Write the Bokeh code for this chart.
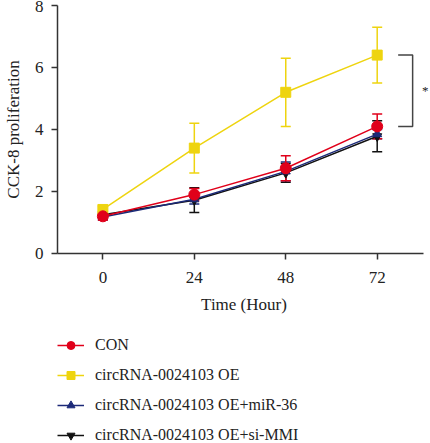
from bokeh.plotting import figure
from bokeh.layouts import column
from bokeh.models import (ColumnDataSource, Whisker, TeeHead, Legend, LegendItem,
                          Range1d, FixedTicker, Label)
from bokeh.embed import file_html
from bokeh.resources import INLINE

hours = [0, 24, 48, 72]
x_ticks = [0, 24, 48, 72]
y_ticks = [0, 2, 4, 6, 8]

series_names = ["CON", "circRNA-0024103 OE", "circRNA-0024103 OE+miR-36",
                "circRNA-0024103 OE+si-MMI"]
con = [1.2, 1.9, 2.75, 4.1]
con_err = [0.12, 0.2, 0.4, 0.4]
oe = [1.42, 3.4, 5.2, 6.4]
oe_err = [0.1, 0.8, 1.1, 0.9]
mir = [1.18, 1.75, 2.65, 3.85]
mir_err = [0.1, 0.15, 0.3, 0.15]
si = [1.25, 1.72, 2.6, 3.78]
si_err = [0.1, 0.4, 0.3, 0.5]

FONT = "Liberation Serif"
FS = "17px"
AX = "#333333"
TXT = "#222222"

X0, X1 = -11.91, 85.99

p = figure(width=430, height=323, output_backend="svg", toolbar_location=None,
           x_range=Range1d(X0, X1), y_range=Range1d(0, 8),
           min_border_left=52, min_border_right=0, min_border_top=5,
           min_border_bottom=70)
p.grid.visible = False
p.outline_line_color = None

for ax in (p.xaxis[0], p.yaxis[0]):
    ax.axis_line_color = AX
    ax.axis_line_width = 1.5
    ax.major_tick_line_color = AX
    ax.major_tick_line_width = 1.5
    ax.major_tick_out = 6
    ax.major_tick_in = 0
    ax.minor_tick_line_color = None
    ax.major_label_text_font = FONT
    ax.major_label_text_font_size = FS
    ax.major_label_text_color = TXT
    ax.axis_label_text_font = FONT
    ax.axis_label_text_font_size = FS
    ax.axis_label_text_font_style = "normal"
    ax.axis_label_text_color = TXT

p.xaxis.ticker = FixedTicker(ticks=x_ticks)
p.yaxis.ticker = FixedTicker(ticks=y_ticks)
p.xaxis.bounds = (X0, 84.1)
p.xaxis.axis_label = "Time (Hour)"
p.yaxis.axis_label = "CCK-8 proliferation"
p.xaxis.major_label_standoff = 12
p.xaxis.axis_label_standoff = 9
p.yaxis.major_label_standoff = 8
p.yaxis.axis_label_standoff = 9

specs = [
    (si, si_err, "#111111", "inverted_triangle", 9, series_names[3]),
    (mir, mir_err, "#1c2a78", "triangle", 9, series_names[2]),
    (oe, oe_err, "#eed40f", "square", 10, series_names[1]),
    (con, con_err, "#e0001a", "circle", 11, series_names[0]),
]

# legend panel below the chart
p2 = figure(width=430, height=120, output_backend="svg", toolbar_location=None,
            x_range=Range1d(-1000, -999), y_range=Range1d(-1000, -999),
            x_axis_type=None, y_axis_type=None,
            min_border_left=52, min_border_right=0, min_border_top=0,
            min_border_bottom=0)
p2.grid.visible = False
p2.outline_line_color = None

items = {}
for vals, errs, col, mk, sz, name in specs:
    src = ColumnDataSource(dict(x=hours, y=vals,
                                upper=[v + e for v, e in zip(vals, errs)],
                                lower=[v - e for v, e in zip(vals, errs)]))
    w = Whisker(base="x", upper="upper", lower="lower", source=src,
                line_color=col, line_width=1.5,
                upper_head=TeeHead(size=10, line_color=col, line_width=1.5),
                lower_head=TeeHead(size=10, line_color=col, line_width=1.5))
    p.add_layout(w)
    p.line("x", "y", source=src, line_color=col, line_width=1.5)
    p.scatter("x", "y", source=src, marker=mk, size=sz,
              fill_color=col, line_color=col)
    # same series in the legend panel (outside its visible range)
    lr = p2.line("x", "y", source=src, line_color=col, line_width=1.5)
    sr = p2.scatter("x", "y", source=src, marker=mk, size=sz,
                    fill_color=col, line_color=col)
    items[name] = LegendItem(label=name, renderers=[lr, sr])

# significance bracket between OE and CON at 72 h
bx0 = hours[-1] + 5.5
bx1 = hours[-1] + 9.3
top = oe[-1]
bot = con[-1]
p.line([bx0, bx1, bx1, bx0], [top, top, bot, bot], line_color="#444444",
       line_width=1.5)
p.add_layout(Label(x=hours[-1] + 12.6, y=(top + bot) / 2, text="*",
                   text_font=FONT, text_font_size="13px", text_align="center",
                   text_baseline="middle", text_color=TXT))

legend = Legend(items=[items[n] for n in series_names], location=(0, -2),
                orientation="vertical", glyph_width=27, glyph_height=20,
                label_height=20, spacing=10, padding=0, margin=0,
                border_line_color=None, background_fill_alpha=0,
                label_standoff=11, label_text_font=FONT,
                label_text_font_size="16px", label_text_color=TXT)
p2.add_layout(legend)

layout = column(p, p2, spacing=0)
open("out.html", "w").write(file_html(layout, INLINE))
